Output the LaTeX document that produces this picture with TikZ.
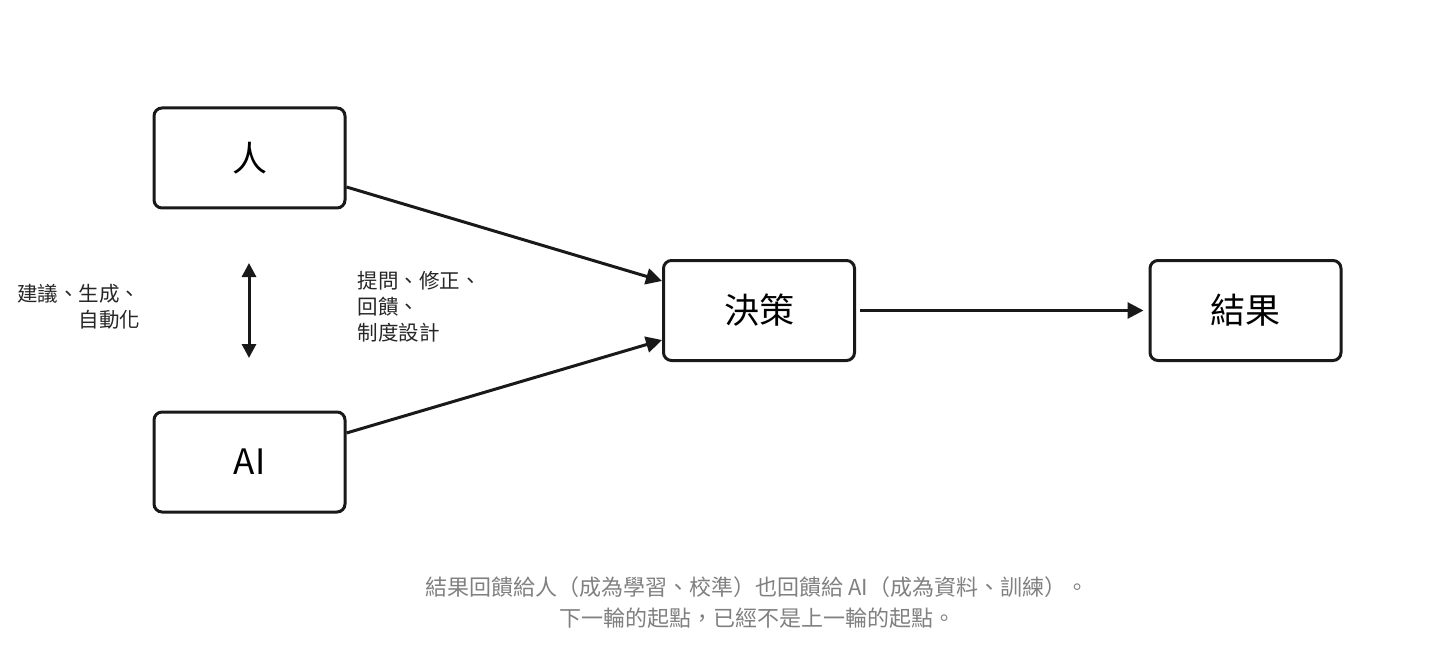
\documentclass[tikz,border=0pt]{standalone}
\usepackage{fontspec}
\setmainfont{Noto Sans CJK TC}
\usetikzlibrary{arrows.meta}
\begin{document}
\begin{tikzpicture}[x=1pt,y=-1pt,
 box/.style={draw=black!90,line width=3pt,rounded corners=8pt,minimum width=191pt,minimum height=100pt,font=\fontsize{35}{40}\selectfont},
 arr/.style={line width=3pt,draw=black!90,-{Triangle[length=16pt,width=16pt]}},
 lab/.style={font=\fontsize{20.5}{26}\selectfont,text=black!85}]
\useasboundingbox (0,0) rectangle (1456,647);
\node[box] (ren) at (249.5,158) {人};
\node[box] (ai) at (249.5,462) {AI};
\node[box] (jc) at (759,310.5) {決策};
\node[box] (jg) at (1245.5,310.5) {結果};
\coordinate (t) at (249,263); \coordinate (b) at (249,358);
\draw[line width=3pt,draw=black!90,{Triangle[length=14pt,width=14pt]}-{Triangle[length=14pt,width=14pt]}] (t) -- (b);
\draw[arr] (ren.east |- 0,187) -- (jc.west |- 0,281);
\draw[arr] (ai.east |- 0,433) -- (jc.west |- 0,340);
\draw[arr] ([xshift=4pt]jc.east) -- ([xshift=-5pt]jg.west);
\node[lab,anchor=north east,align=right] (l1) at (144,281) {建議、生成、\\自動化};
\node[lab,anchor=north west,align=left] (l2) at (354,268) {提問、修正、\\回饋、\\制度設計};
\node[font=\fontsize{22}{31}\selectfont,text=black!50,align=center] (n) at (757,603) {結果回饋給人（成為學習、校準）也回饋給 AI（成為資料、訓練）。\\下一輪的起點，已經不是上一輪的起點。};
\end{tikzpicture}
\end{document}
